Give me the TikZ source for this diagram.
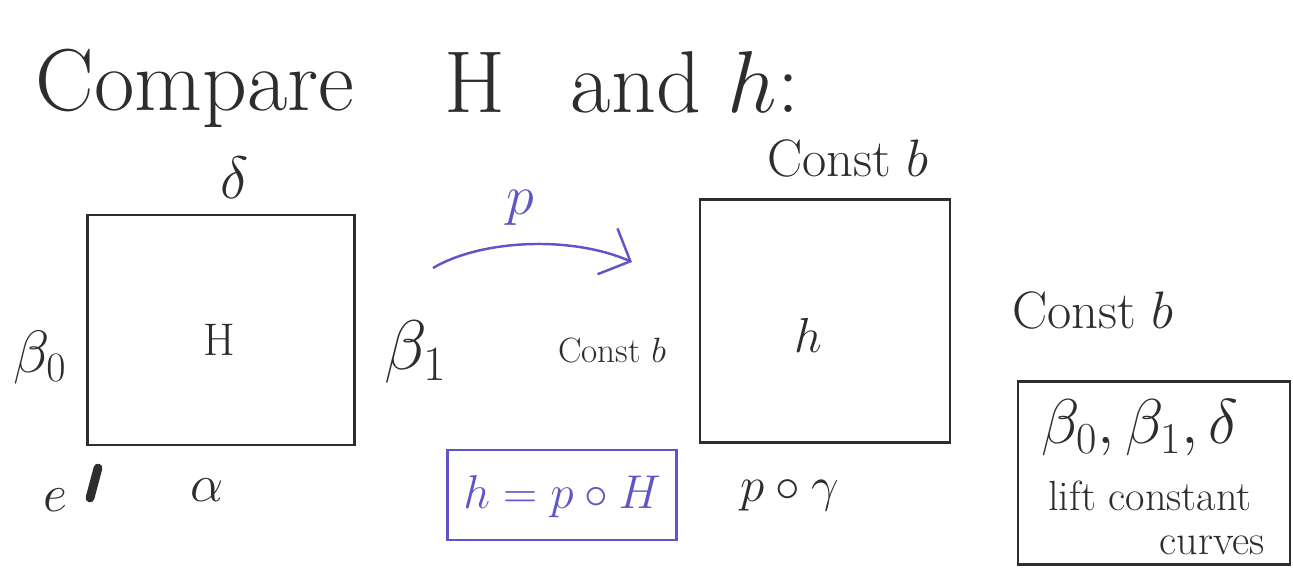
\RequirePackage{fix-cm}
\documentclass[tikz,border=0pt]{standalone}
\usetikzlibrary{arrows.meta}
\definecolor{ink}{RGB}{45,45,45}
\definecolor{blueink}{RGB}{95,85,200}
\begin{document}
\begin{tikzpicture}[x=0.02cm,y=-0.02cm,
  lbl/.style={text=ink, inner sep=0pt},
  sz/.style={font=\fontsize{#1pt}{#1pt}\selectfont},
  sqbox/.style={draw=ink, line width=1.6pt, inner sep=0pt},
  bluebox/.style={draw=blueink, line width=1.3pt, inner sep=0pt},
  bluearrow/.style={draw=blueink, line width=1.4pt, -{Straight Barb[length=5mm,width=10mm,line width=1.4pt]}}]
\useasboundingbox (0,0) rectangle (1293,568);
% title
\node[lbl,sz=50] (t1) at (195,88) {Compare};
\node[lbl,sz=50] (t2) at (475,82) {H};
\node[lbl,sz=50] (t3) at (685,82) {and $h$:};
% left square
\node[sqbox, minimum width=5.34cm, minimum height=4.6cm] (Hbox) at (221,330) {};
\node[lbl,sz=26] (Hl) at (219,340) {H};
\node[lbl,sz=34] (delta) at (235,178) {$\delta$};
\node[lbl,sz=34] (b0) at (40,358) {$\beta_0$};
\node[lbl,sz=40] (b1) at (416,352) {$\beta_1$};
\node[lbl,sz=30] (e) at (55,500) {$e$};
\node[lbl,sz=30] (alpha) at (207,490) {$\alpha$};
\draw[ink, line width=5pt, line cap=round] (98,468) -- (90,498);
% arrow p
\coordinate (as) at (433,268);
\coordinate (ae) at (632,262);
\draw[bluearrow] (as) .. controls (480,240) and (570,235) .. (ae);
\node[text=blueink, inner sep=0pt, sz=32] (plbl) at (520,208) {$p$};
% right square
\node[sqbox, minimum width=5.0cm, minimum height=4.86cm] (hbox) at (825,321) {};
\node[lbl,sz=28] (hl) at (808,335) {$h$};
\node[lbl,sz=30] (cbt) at (848,158) {Const $b$};
\node[lbl,sz=20] (cbl) at (612,350) {Const $b$};
\node[lbl,sz=30] (cbr) at (1093,310) {Const $b$};
\node[lbl,sz=28] (pg) at (790,495) {$p\circ\gamma$};
% blue box
\node[bluebox, minimum width=4.58cm, minimum height=1.8cm] (eq) at (562,495) {};
\node[text=blueink, inner sep=0pt, sz=27] (eqt) at (562,497) {$h=p\circ H$};
% black box
\node[sqbox, minimum width=5.44cm, minimum height=3.66cm] (lift) at (1154,473) {};
\node[lbl,sz=36] (l1) at (1140,428) {$\beta_0,\beta_1,\delta$};
\node[lbl,sz=24] (l2) at (1150,496) {lift constant};
\node[lbl,sz=24] (l3) at (1212,545) {curves};
\end{tikzpicture}
\end{document}
